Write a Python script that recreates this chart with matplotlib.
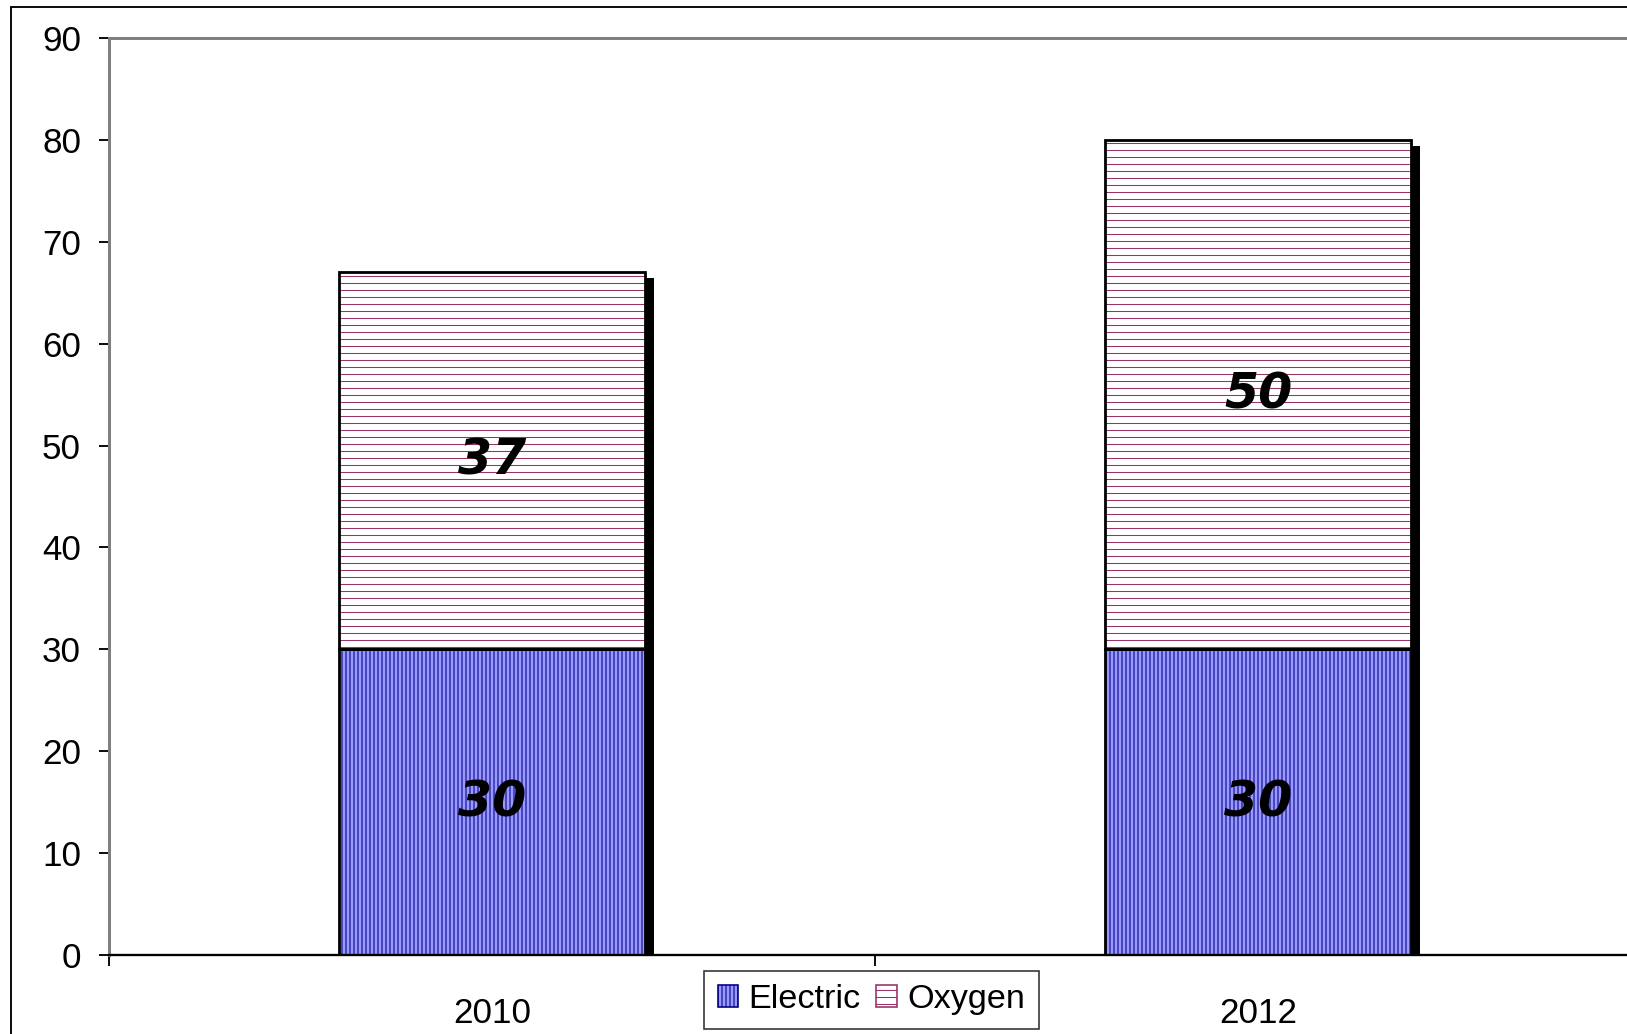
import matplotlib.pyplot as plt
import matplotlib.patheffects as pe
from matplotlib.patches import Rectangle

years = ["2010", "2012"]
electric = [30, 30]
oxygen = [37, 50]

DPI = 168
plt.rcParams['font.family'] = ['Liberation Sans', 'DejaVu Sans']
plt.rcParams['hatch.linewidth'] = 0.45


def main():
    fig = plt.figure(figsize=(1627 / DPI, 1034 / DPI), dpi=DPI)

    # outer chart border (runs off the right and bottom of the picture)
    fig.patches.append(Rectangle((11 / 1627, -0.1), 1.2, 1 - 7 / 1034 + 0.1,
                                 transform=fig.transFigure, fill=False,
                                 edgecolor='black', linewidth=0.8))

    ax = fig.add_axes([109 / 1627, 79 / 1034, 1532 / 1627, 917 / 1034])
    x = list(range(len(years)))
    w = 0.4

    # drop shadow behind the full stack
    totals = [e + o for e, o in zip(electric, oxygen)]
    outline = ax.bar(x, totals, w, color='none', edgecolor='none', zorder=1)
    for p in outline:
        p.set_path_effects([pe.SimplePatchShadow(offset=(3.9, -2.6), shadow_rgbFace='black',
                                                 alpha=1.0, rho=1.0)])

    ax.bar(x, electric, w, color='#9999FF', edgecolor='#000080', hatch='|' * 7,
           linewidth=0, zorder=2, label='Electric')
    ax.bar(x, oxygen, w, bottom=electric, color='white', edgecolor='#993366',
           hatch='-' * 4, linewidth=0, zorder=2, label='Oxygen')
    ax.bar(x, electric, w, fill=False, edgecolor='black', linewidth=1.2, zorder=3)
    ax.bar(x, oxygen, w, bottom=electric, fill=False, edgecolor='black', linewidth=1.2, zorder=3)

    for i in x:
        ax.text(i, electric[i] / 2, str(electric[i]), ha='center', va='center',
                fontsize=21, fontweight='heavy', fontstyle='italic', family='DejaVu Sans', zorder=4)
        ax.text(i, electric[i] + oxygen[i] / 2, str(oxygen[i]), ha='center', va='center',
                fontsize=21, fontweight='heavy', fontstyle='italic', family='DejaVu Sans', zorder=4)

    ax.set_xlim(-0.5, len(years) - 0.5)
    ax.set_ylim(0, 90)
    ax.set_yticks(range(0, 91, 10))
    ax.tick_params(axis='y', direction='out', length=4.5, width=0.8, labelsize=15, pad=7.5, colors='black')
    ax.set_xticks(x)
    ax.set_xticklabels(years)
    ax.set_xticks([-0.5, 0.5, 1.5], minor=True)
    ax.tick_params(axis='x', which='major', length=0, labelsize=15, pad=18)
    ax.tick_params(axis='x', which='minor', direction='out', length=4.5, width=0.8)

    for s in ['left', 'top', 'right']:
        ax.spines[s].set_color('#808080')
        ax.spines[s].set_linewidth(1.3)
    ax.spines['bottom'].set_color('black')
    ax.spines['bottom'].set_linewidth(1.0)

    leg = fig.legend(loc='lower left', bbox_to_anchor=(704 / 1627, 5 / 1034), ncol=2,
                     fontsize=14.7, frameon=True, fancybox=False, edgecolor='black',
                     handlelength=0.6, handleheight=0.6, handletextpad=0.3,
                     columnspacing=0.45, borderpad=0.4, borderaxespad=0)
    leg.get_frame().set_linewidth(0.7)
    for h in leg.legend_handles:
        h.set_linewidth(0.7)

    fig.savefig("out.png", dpi=DPI)


if __name__ == "__main__":
    main()
